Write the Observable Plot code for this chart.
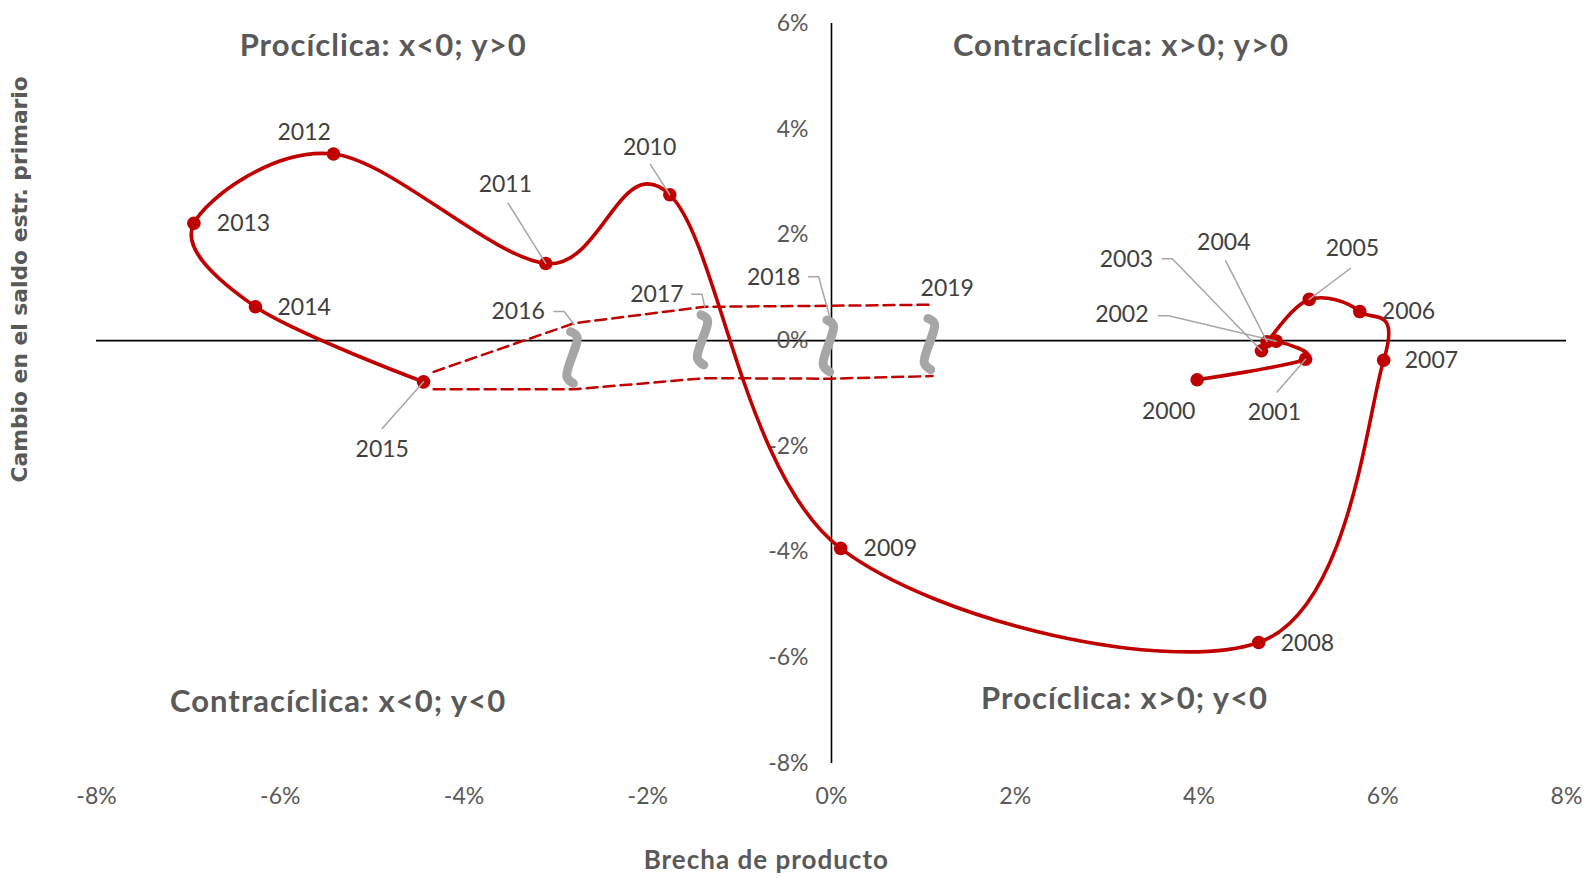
<!DOCTYPE html>
<html>
<head>
<meta charset="utf-8">
<script src="https://cdn.jsdelivr.net/npm/d3@7"></script>
<script src="https://cdn.jsdelivr.net/npm/@observablehq/plot@0.6"></script>
<style>
  body { margin: 0; background: #ffffff; }
  #chart svg { display: block; }
</style>
</head>
<body>
<div id="chart"></div>
<script>
// ---- Observed data (brecha de producto, cambio en el saldo estructural primario), in % ----
const years  = [2000, 2001, 2002, 2003, 2004, 2005, 2006, 2007, 2008, 2009, 2010, 2011, 2012, 2013, 2014, 2015];
const brecha = [3.98, 5.16, 4.84, 4.68, 4.74, 5.20, 5.75, 6.01, 4.65, 0.10, -1.76, -3.11, -5.42, -6.94, -6.27, -4.44];
const saldo  = [-0.74, -0.35, -0.01, -0.19, -0.02, 0.78, 0.55, -0.37, -5.71, -3.93, 2.76, 1.46, 3.53, 2.22, 0.64, -0.78];

// ---- Projection band 2015-2019 (upper and lower scenarios) ----
const projYears  = [2015, 2016, 2017, 2018, 2019];
const projBrecha = [-4.33, -2.80, -1.38, -0.02, 1.10];
const projUpper  = [-0.59, 0.33, 0.64, 0.66, 0.68];
const projLower  = [-0.92, -0.92, -0.71, -0.72, -0.67];

// ---- Range brackets for the projection years ----
const bracketYears  = [2016, 2017, 2018, 2019];
const bracketX      = [-2.82, -1.40, -0.03, 1.07];
const bracketTop    = [0.17, 0.49, 0.39, 0.42];
const bracketBottom = [-0.81, -0.46, -0.59, -0.55];

// ---- Year labels (anchor in data units) ----
const labelYears = [2000, 2001, 2002, 2003, 2004, 2005, 2006, 2007, 2008, 2009, 2010, 2011, 2012, 2013, 2014, 2015, 2016, 2017, 2018, 2019];
const labelX = [3.67, 4.82, 3.16, 3.21, 4.27, 5.67, 6.28, 6.53, 5.18, 0.64, -1.98, -3.55, -5.74, -6.40, -5.74, -4.89, -3.41, -1.90, -0.63, 1.26];
const labelY = [-1.34, -1.36, 0.49, 1.53, 1.86, 1.74, 0.55, -0.38, -5.73, -3.94, 3.66, 2.96, 3.94, 2.21, 0.63, -2.06, 0.55, 0.87, 1.19, 0.98];

// ---- Leader lines (start near label, in data units) ----
const leaderYears  = [2001, 2002, 2003, 2004, 2005, 2010, 2011, 2015, 2016, 2017, 2018];
const leaderStartX = [4.85, 3.56, 3.60, 4.29, 5.65, -1.97, -3.52, -4.89, -3.02, -1.52, -0.25];
const leaderStartY = [-0.97, 0.47, 1.55, 1.51, 1.37, 3.33, 2.60, -1.66, 0.55, 0.88, 1.21];
const leaderElbow  = [false, true, true, false, false, false, false, false, true, true, true];
const projLeaderEndY = {2016: 0.30, 2017: 0.64, 2018: 0.45};

// ---- Quadrant titles ----
const quadText = ["Procíclica: x<0; y>0", "Contracíclica: x>0; y>0", "Contracíclica: x<0; y<0", "Procíclica: x>0; y<0"];
const quadX = [-4.88, 3.15, -5.37, 3.19];
const quadY = [5.57, 5.58, -6.83, -6.78];

// ---- Axis titles (anchor in data units) ----
const xTitle = "Brecha de producto";
const yTitle = "Cambio en el saldo estr. primario";
const xTitlePos = [-0.71, -9.84];
const yTitlePos = [-8.83, 1.16];

// ---- Axis ticks ----
const xTicks = [-8, -6, -4, -2, 0, 2, 4, 6, 8];
const yTicks = [-8, -6, -4, -2, 0, 2, 4, 6];

// ---- Build tables ----
const main = years.map((yr, i) => ({year: yr, x: brecha[i], y: saldo[i]}));
const upper = projYears.map((yr, i) => ({year: yr, x: projBrecha[i], y: projUpper[i]}));
const lower = projYears.map((yr, i) => ({year: yr, x: projBrecha[i], y: projLower[i]}));
const labels = labelYears.map((yr, i) => ({text: String(yr), x: labelX[i], y: labelY[i]}));
const quads = quadText.map((t, i) => ({text: t, x: quadX[i], y: quadY[i]}));

const brackets = bracketYears.flatMap((yr, i) => {
  const x = bracketX[i], t = bracketTop[i], b = bracketBottom[i];
  return [[x - 0.02, t], [x + 0.05, t - 0.1], [x - 0.06, b + 0.13], [x + 0.01, b]]
    .map(([px, py]) => ({year: yr, x: px, y: py}));
});

const leaders = leaderYears.flatMap((yr, i) => {
  const pts = [[leaderStartX[i], leaderStartY[i]]];
  if (leaderElbow[i]) pts.push([leaderStartX[i] + 0.11, leaderStartY[i]]);
  const k = years.indexOf(yr);
  if (k >= 0) pts.push([brecha[k], saldo[k]]);
  else pts.push([projBrecha[projYears.indexOf(yr)], projLeaderEndY[yr]]);
  return pts.map(([px, py]) => ({year: yr, x: px, y: py}));
});

const RED = "#C00000";
const GRAY = "#595959";

const chart = Plot.plot({
  width: 1593,
  height: 878,
  marginLeft: 96,
  marginRight: 27,
  marginTop: 23,
  marginBottom: 115,
  x: {domain: [-8, 8]},
  y: {domain: [-8, 6], axis: null},
  style: {fontFamily: "Lato, sans-serif", background: "#ffffff"},
  marks: [
    Plot.ruleY([0], {stroke: "#000000", strokeWidth: 1.6}),
    Plot.ruleX([0], {stroke: "#000000", strokeWidth: 1.6}),
    Plot.axisX(xTicks, {tickSize: 0, tickPadding: 24, tickFormat: d => `${d}%`, fontSize: 23, color: GRAY, fill: GRAY, label: null}),
    Plot.text(yTicks, {x: 0, y: d => d, text: d => `${d}%`, textAnchor: "end", dx: -23, fontSize: 23, fill: GRAY}),
    Plot.line(upper, {x: "x", y: "y", stroke: RED, strokeWidth: 2.5, strokeDasharray: "11,6"}),
    Plot.line(lower, {x: "x", y: "y", stroke: RED, strokeWidth: 2.5, strokeDasharray: "11,6"}),
    Plot.line(brackets, {x: "x", y: "y", z: "year", stroke: "#A6A6A6", strokeWidth: 9, strokeLinecap: "round", curve: "catmull-rom"}),
    Plot.line(main, {x: "x", y: "y", stroke: RED, strokeWidth: 3.6, curve: "cardinal"}),
    Plot.dot(main, {x: "x", y: "y", r: 6.8, fill: RED}),
    Plot.line(leaders, {x: "x", y: "y", z: "year", stroke: "#A6A6A6", strokeWidth: 1.5}),
    Plot.text(labels, {x: "x", y: "y", text: "text", fontSize: 23, fill: "#404040"}),
    Plot.text(quads, {x: "x", y: "y", text: "text", fontSize: 31, fontWeight: "bold", fill: GRAY}),
    Plot.text([xTitle], {x: () => xTitlePos[0], y: () => xTitlePos[1], text: d => d, fontSize: 26, fontWeight: "bold", fill: GRAY}),
    Plot.text([yTitle], {x: () => yTitlePos[0], y: () => yTitlePos[1], text: d => d, rotate: -90, fontSize: 21.8, fontWeight: "bold", fill: GRAY, fontFamily: "DejaVu Sans"})
  ]
});

// small letter-spacing on the bold titles to mimic the wider original typeface
d3.select(chart).selectAll("text")
  .filter(function () { return quadText.includes(this.textContent) || this.textContent === xTitle; })
  .style("letter-spacing", "1px");

document.getElementById("chart").appendChild(chart);
</script>
</body>
</html>
